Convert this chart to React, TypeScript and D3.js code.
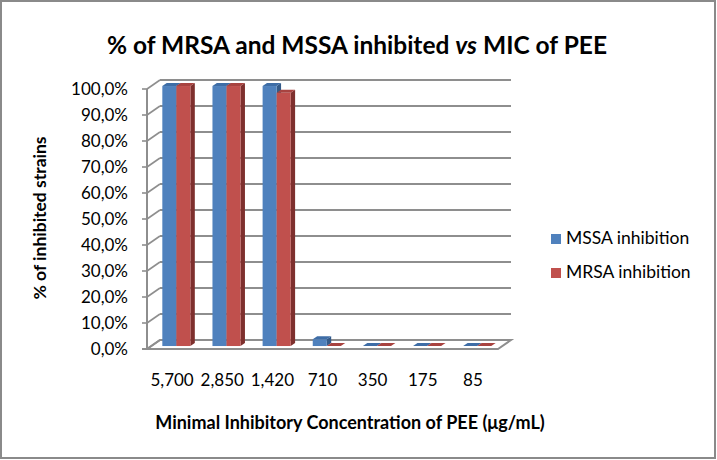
import React from "react";
import * as d3 from "d3";

const categories = ["5,700", "2,850", "1,420", "710", "350", "175", "85"];
const mssa = [100, 100, 100, 2.6, 0, 0, 0];
const mrsa = [100, 100, 97.4, 0, 0, 0, 0];
const yTicks = [0, 10, 20, 30, 40, 50, 60, 70, 80, 90, 100];
const seriesNames = ["MSSA inhibition", "MRSA inhibition"];

const W = 717;
const H = 460;
const FONT = "Lato, 'Open Sans', sans-serif";

const colors = [
  { front: "#4F81BD", top: "#3E6DA6", side: "#345A88" },
  { front: "#C0504D", top: "#A84340", side: "#7E302E" },
];

export default function App() {
  const x = d3.scaleBand<string>().domain(categories).range([147, 498]).paddingInner(0).paddingOuter(0);
  const y = d3.scaleLinear().domain([0, 100]).range([349, 89]);
  const DX = 13;
  const DY = -9;
  const fFront = 0.33;
  const fBack = 0.67;
  const barW = x.bandwidth() * 0.28;

  const grid = "#8E8E8E";

  const bars: JSX.Element[] = [];
  categories.forEach((c, i) => {
    const center = (x(c) as number) + x.bandwidth() / 2;
    [mssa[i], mrsa[i]].forEach((v, s) => {
      const col = colors[s];
      const x0 = center - barW + s * barW + DX * fFront;
      const x1 = x0 + barW;
      const yb = y(0) + DY * fFront;
      const yt = y(v) + DY * fFront;
      const ddx = DX * (fBack - fFront);
      const ddy = DY * (fBack - fFront);
      const top = `M${x0},${yt} L${x1},${yt} L${x1 + ddx},${yt + ddy} L${x0 + ddx},${yt + ddy} Z`;
      const side = `M${x1},${yt} L${x1 + ddx},${yt + ddy} L${x1 + ddx},${yb + ddy} L${x1},${yb} Z`;
      bars.push(
        <g key={`${i}-${s}`}>
          {v > 0 && <path d={side} fill={col.side} />}
          {v > 0 && <rect x={x0} y={yt} width={barW} height={yb - yt} fill={col.front} />}
          <path d={top} fill={col.top} />
        </g>
      );
    });
  });

  return (
    <div style={{ position: "fixed", left: 0, top: 0 }}>
      <svg width={W} height={H} style={{ display: "block", background: "#fff" }}>
        <rect x={1} y={1} width={W - 3} height={H - 3} fill="#fff" stroke="#8A8A8A" strokeWidth={2} />
        <text
          x={357}
          y={54}
          textAnchor="middle"
          fontFamily={FONT}
          fontWeight="bold"
          fontSize={24.5}
          fill="#000"
        >
          % of MRSA and MSSA inhibited <tspan fontStyle="italic">vs</tspan> MIC of PEE
        </text>

        {/* floor */}
        <path
          d={`M${x.range()[0]},${y(0)} L${x.range()[1]},${y(0)} L${x.range()[1] + DX},${y(0) + DY} L${x.range()[0] + DX},${y(0) + DY} Z`}
          fill="#fff"
          stroke={grid}
          strokeWidth={2}
        />
        {/* gridlines back wall + left wall */}
        {yTicks.map((t) => (
          <g key={t}>
            <line x1={147 + DX} x2={498 + DX} y1={y(t) + DY} y2={y(t) + DY} stroke={grid} strokeWidth={2} />
            <line x1={147} x2={147 + DX} y1={y(t)} y2={y(t) + DY} stroke={grid} strokeWidth={1.6} />
            <line x1={142} x2={147} y1={y(t)} y2={y(t)} stroke={grid} strokeWidth={1.6} />
            <text
              x={128}
              y={y(t) + 2}
              textAnchor="end"
              dominantBaseline="middle"
              fontFamily={FONT}
              fontSize={17}
              fill="#000"
            >
              {t.toFixed(1).replace(".", ",")}%
            </text>
          </g>
        ))}
        <line x1={147} x2={147} y1={y(100)} y2={y(0)} stroke={grid} strokeWidth={2} />
        <line x1={142} x2={498} y1={y(0)} y2={y(0)} stroke={grid} strokeWidth={2} />

        {bars}

        {categories.map((c) => (
          <text
            key={c}
            x={(x(c) as number) + x.bandwidth() / 2}
            y={382}
            textAnchor="middle"
            dominantBaseline="middle"
            fontFamily={FONT}
            fontSize={17}
            fill="#000"
          >
            {c}
          </text>
        ))}

        <text
          x={350}
          y={424}
          textAnchor="middle"
          dominantBaseline="middle"
          fontFamily={FONT}
          fontWeight="bold"
          fontSize={18}
          fill="#000"
        >
          Minimal Inhibitory Concentration of PEE (μg/mL)
        </text>

        <text
          transform="translate(42,218) rotate(-90)"
          textAnchor="middle"
          dominantBaseline="middle"
          fontFamily={FONT}
          fontWeight="bold"
          fontSize={17.5}
          fill="#000"
        >
          % of inhibited strains
        </text>

        {seriesNames.map((n, i) => (
          <g key={n} transform={`translate(551,${239 + i * 34})`}>
            <rect x={0} y={-5} width={10} height={10} fill={colors[i].front} />
            <text x={15} y={1} dominantBaseline="middle" fontFamily={FONT} fontSize={17.5} fill="#000">
              {n}
            </text>
          </g>
        ))}
      </svg>
    </div>
  );
}
